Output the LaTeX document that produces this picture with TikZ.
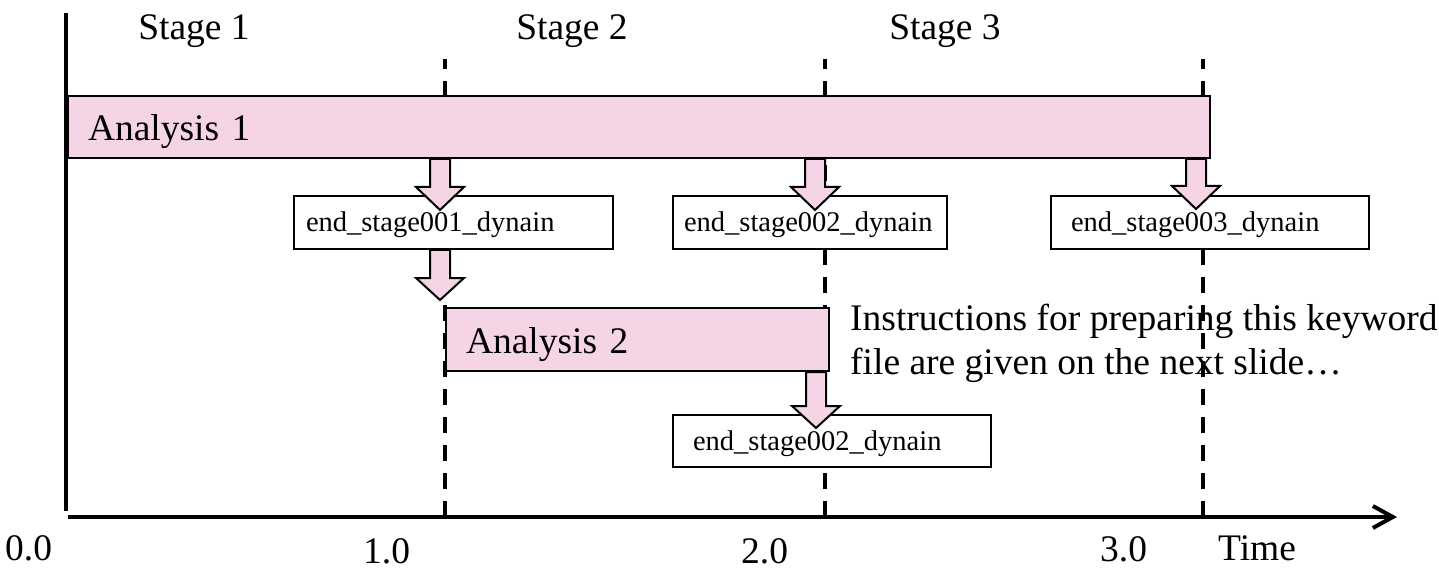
\documentclass[tikz,border=0pt]{standalone}
\usepackage{fontspec}
\setmainfont{Liberation Serif}
\usetikzlibrary{arrows.meta,calc}
\definecolor{pinkfill}{RGB}{245,213,229}
\tikzset{
  big/.style={font=\fontsize{37.5}{44}\selectfont},
  small/.style={font=\fontsize{28.5}{34}\selectfont},
  anabox/.style={draw=black,line width=2pt,fill=pinkfill,anchor=north west,big,align=left,inner ysep=0pt,text height=34pt,text depth=6pt},
  filebox/.style={draw=black,line width=2pt,fill=white,anchor=north west,small,align=left,inner ysep=0pt,text height=24pt,text depth=5pt},
  stagedash/.style={line width=3.5pt,dash pattern=on 16pt off 12pt},
  axisline/.style={line width=4pt},
  blk/.style={fill=pinkfill,draw=black,line width=2pt,line join=miter},
  lbl/.style={big,anchor=base west,inner sep=0pt}
}
\newcommand{\blkarrow}[3]{% start, tip, head length
  \path[blk] let \p1=(#1), \p2=(#2) in
    (\x2-10pt,\y1) -- (\x2-10pt,\y2+#3) -- (\x2-24pt,\y2+#3) -- (\x2,\y2)
    -- (\x2+24pt,\y2+#3) -- (\x2+10pt,\y2+#3) -- (\x2+10pt,\y1) -- cycle;}
\begin{document}
\begin{tikzpicture}[x=1pt,y=-1pt]
\useasboundingbox (0,0) rectangle (1439,569);
% axes
\coordinate (vtop) at (66,13);
\coordinate (vbot) at (66,511);
\coordinate (origin) at (68,517);
\coordinate (tend) at (1397,517);
\draw[axisline] (vtop) -- (vbot);
% stage dividers
\coordinate (d1t) at (445,59); \coordinate (d1b) at (445,517);
\coordinate (d2t) at (825,59); \coordinate (d2b) at (825,517);
\coordinate (d3t) at (1203,59); \coordinate (d3b) at (1203,517);
\draw[stagedash] (d1b) -- (d1t);
\draw[stagedash] (d2b) -- (d2t);
\draw[stagedash] (d3b) -- (d3t);
\draw[axisline,-{Straight Barb[length=20pt,width=22pt,line width=4pt]}] (origin) -- (tend);
% stage labels
\node[big,anchor=base] (s1) at (194,40) {Stage 1};
\node[big,anchor=base] (s2) at (572,40) {Stage 2};
\node[big,anchor=base] (s3) at (945,40) {Stage 3};
% analysis boxes
\node[anabox,minimum width=1142pt,minimum height=62pt,text width=1102pt,inner xsep=20pt] (a1) at (67,95) {Analysis 1};
\node[anabox,minimum width=383pt,minimum height=63pt,text width=343pt,inner xsep=20pt] (a2) at (445,307) {Analysis 2};
% file boxes
\node[filebox,minimum width=319pt,minimum height=53pt,text width=295pt,inner xsep=12pt] (e1) at (293,195) {end\_stage001\_dynain};
\node[filebox,minimum width=274pt,minimum height=53pt,text width=252pt,inner xsep=11pt] (e2) at (672,195) {end\_stage002\_dynain};
\node[filebox,minimum width=318pt,minimum height=53pt,text width=278pt,inner xsep=20pt] (e3) at (1050,195) {end\_stage003\_dynain};
\node[filebox,minimum width=318pt,minimum height=52pt,text width=278pt,inner xsep=20pt] (e4) at (672,414) {end\_stage002\_dynain};
% block arrows
\coordinate (t1) at (440,210);
\coordinate (t2) at (815,210);
\coordinate (t3) at (1196,209);
\coordinate (t4) at (440,300);
\coordinate (t5) at (816,428);
\blkarrow{a1.south -| t1}{t1}{23pt}
\blkarrow{a1.south -| t2}{t2}{23pt}
\blkarrow{a1.south -| t3}{t3}{23pt}
\blkarrow{e1.south -| t4}{t4}{22pt}
\blkarrow{a2.south -| t5}{t5}{22pt}
% note
\node[big,anchor=north west,align=left,inner sep=0pt] (note) at (850,304) {Instructions for preparing this keyword\\file are given on the next slide\ldots};
% axis labels
\node[lbl] (x0) at (5,560) {0.0};
\node[lbl] (x1) at (363,563) {1.0};
\node[lbl] (x2) at (741,563) {2.0};
\node[lbl] (x3) at (1100,561) {3.0};
\node[lbl] (xt) at (1218,560) {Time};
\end{tikzpicture}
\end{document}
